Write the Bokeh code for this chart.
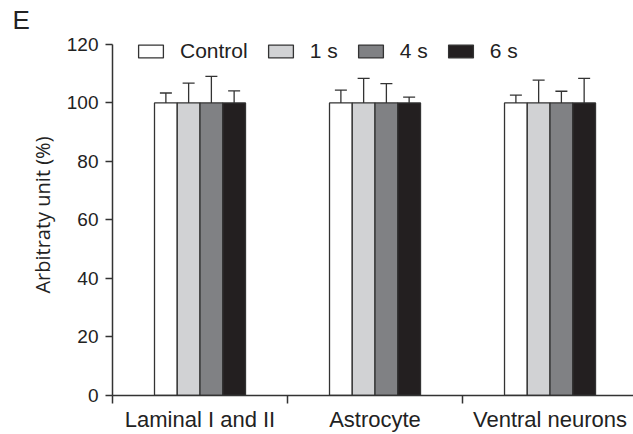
from bokeh.plotting import figure
from bokeh.models import (ColumnDataSource, Range1d, FixedTicker, Whisker, TeeHead,
                          Legend, LegendItem, Title)
from bokeh.embed import file_html
from bokeh.resources import INLINE

categories = ["Laminal I and II", "Astrocyte", "Ventral neurons"]
series = ["Control", "1 s", "4 s", "6 s"]
colors = ["#ffffff", "#d1d2d4", "#808184", "#231f20"]
means = {
    "Control": [100, 100, 100],
    "1 s": [100, 100, 100],
    "4 s": [100, 100, 100],
    "6 s": [100, 100, 100],
}
errors = {
    "Control": [3.4, 4.4, 2.7],
    "1 s": [6.8, 8.4, 7.8],
    "4 s": [9.1, 6.6, 4.0],
    "6 s": [4.1, 2.0, 8.4],
}
y_ticks = [0, 20, 40, 60, 80, 100, 120]

bar_w = 0.13
offsets = [-1.5 * bar_w, -0.5 * bar_w, 0.5 * bar_w, 1.5 * bar_w]

p = figure(width=633, height=434, output_backend="svg", toolbar_location=None,
           x_range=Range1d(0, 2.977), y_range=Range1d(0, 123.4),
           min_border_left=112, min_border_right=0, min_border_top=34,
           min_border_bottom=38)
p.outline_line_color = None
p.xgrid.visible = False
p.ygrid.visible = False
p.background_fill_color = "white"
p.border_fill_color = "white"

items = []
for k, s in enumerate(series):
    xs = [i + 0.5 + offsets[k] for i in range(len(categories))]
    src = ColumnDataSource(dict(x=xs, top=means[s],
                                upper=[m + e for m, e in zip(means[s], errors[s])]))
    r = p.vbar(x="x", top="top", bottom=0, width=bar_w, source=src,
               fill_color=colors[k], line_color="#333333", line_width=1.3)
    w = Whisker(base="x", lower="top", upper="upper", source=src,
                line_color="#333333", line_width=1.3,
                upper_head=TeeHead(size=12, line_color="#333333", line_width=1.3),
                lower_head=None)
    p.add_layout(w)
    items.append(LegendItem(label=s, renderers=[r]))

legend = Legend(items=items, orientation="horizontal", location=(23, 332),
                glyph_width=31, glyph_height=16, label_standoff=14, spacing=17,
                padding=0, margin=0, background_fill_alpha=0, border_line_color=None,
                label_text_font="Liberation Sans", label_text_font_size="21px",
                label_text_color="#222222")
p.add_layout(legend, "center")

# Axes
axis_color = "#333333"
p.yaxis.ticker = FixedTicker(ticks=y_ticks)
p.yaxis.bounds = (0, 120)
p.yaxis.axis_line_color = axis_color
p.yaxis.axis_line_width = 1.5
p.yaxis.major_tick_line_color = axis_color
p.yaxis.major_tick_line_width = 1.5
p.yaxis.major_tick_in = 0
p.yaxis.major_tick_out = 7
p.yaxis.minor_tick_line_color = None
p.yaxis.major_label_text_font = "Liberation Sans"
p.yaxis.major_label_text_font_size = "19px"
p.yaxis.major_label_text_color = "#222222"
p.yaxis.major_label_standoff = 7
p.yaxis.axis_label = "Arbitraty unit (%)"
p.yaxis.axis_label_text_font = "Open Sans"
p.yaxis.axis_label_text_font_size = "20px"
p.yaxis.axis_label_text_font_style = "normal"
p.yaxis.axis_label_text_color = "#222222"
p.yaxis.axis_label_standoff = 8

centers = [i + 0.5 for i in range(len(categories))]
p.xaxis.ticker = FixedTicker(ticks=centers,
                             minor_ticks=[float(i) for i in range(len(categories) + 1)])
p.xaxis.major_label_overrides = {c: lab for c, lab in zip(centers, categories)}
p.xaxis.axis_line_color = axis_color
p.xaxis.axis_line_width = 1.5
p.xaxis.major_tick_line_color = None
p.xaxis.minor_tick_line_color = axis_color
p.xaxis.minor_tick_line_width = 1.5
p.xaxis.minor_tick_in = 0
p.xaxis.minor_tick_out = 8
p.xaxis.major_label_text_font = "Liberation Sans"
p.xaxis.major_label_text_font_size = "22px"
p.xaxis.major_label_text_color = "#222222"
p.xaxis.major_label_standoff = 3

p.add_layout(Title(text="E", align="left", offset=-100, text_font="Liberation Sans",
                   text_font_size="26px", text_font_style="normal",
                   text_color="#222222", standoff=0), "above")

open("out.html", "w").write(file_html(p, INLINE))
